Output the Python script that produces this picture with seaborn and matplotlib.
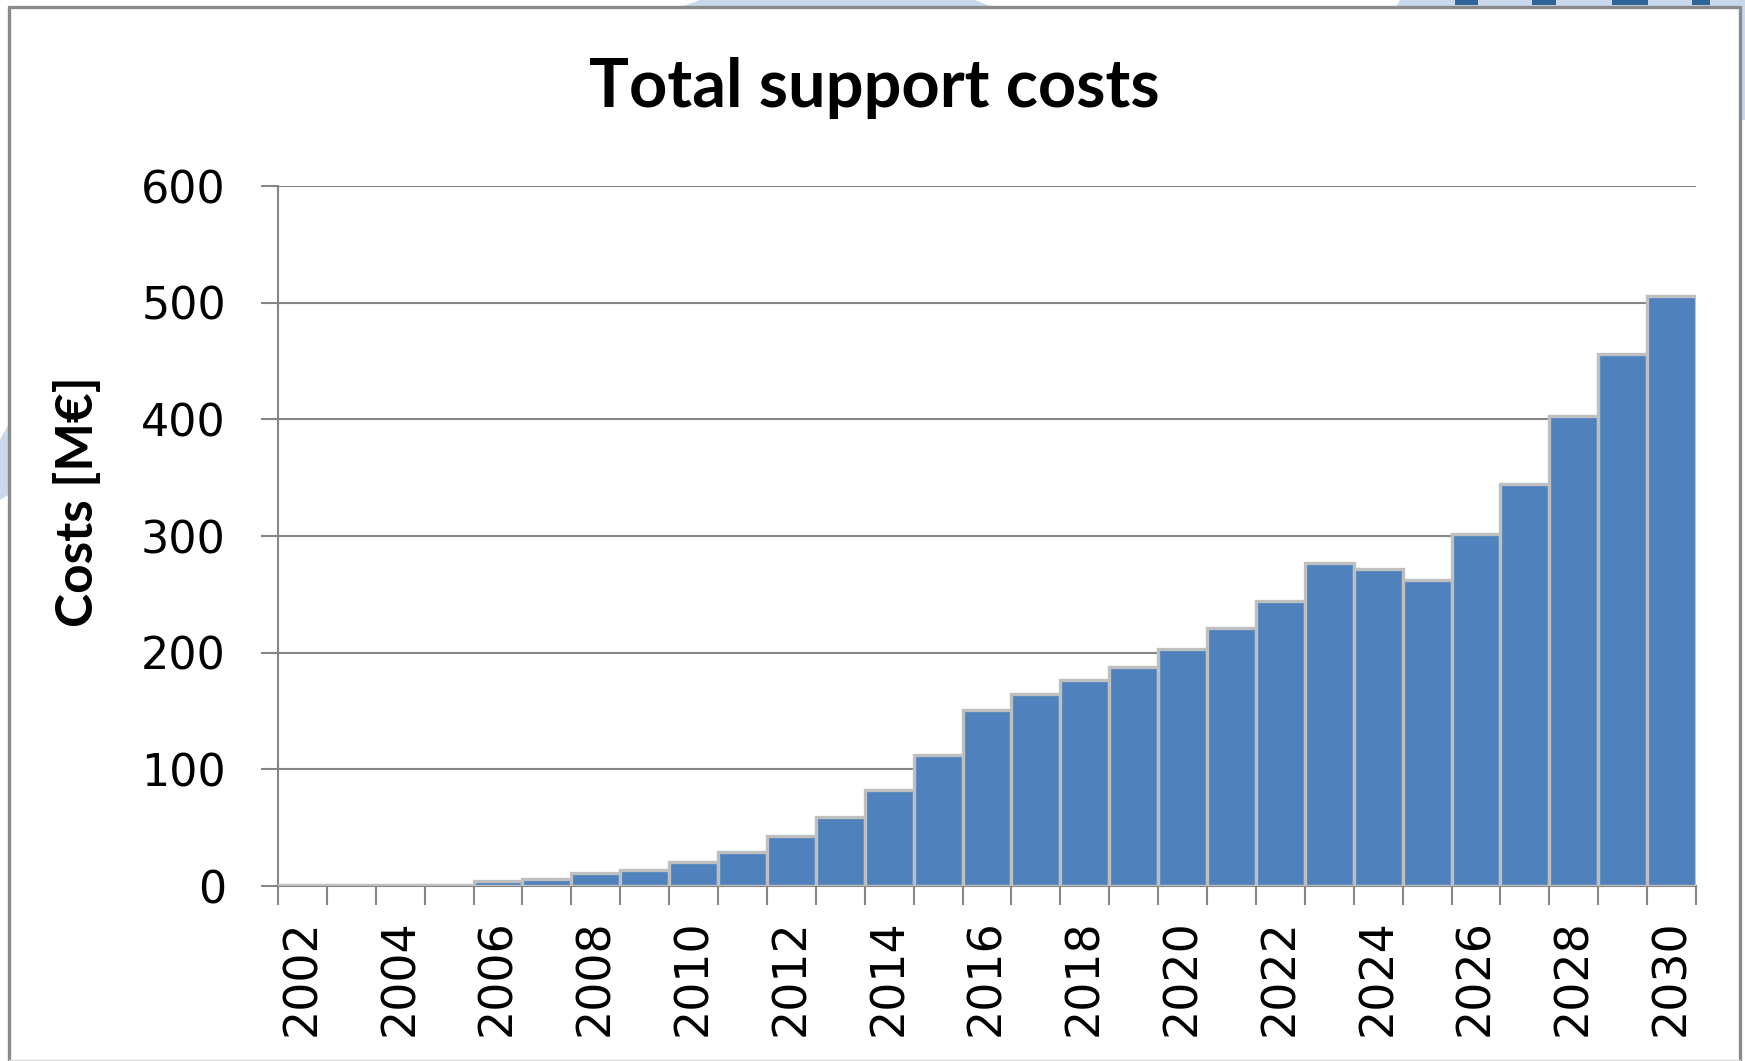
import numpy as np
import matplotlib
matplotlib.use("Agg")
import matplotlib.pyplot as plt
from matplotlib.patches import Polygon
from matplotlib.lines import Line2D
import seaborn as sns

# Annual total support costs, million euro
years = [str(y) for y in range(2002, 2031)]
costs = [1, 1, 1, 1, 4, 6, 11, 14, 21, 29, 43, 59, 82, 112, 151, 165,
         177, 188, 203, 221, 244, 277, 272, 262, 302, 345, 403, 456, 506]
y_ticks = [0, 100, 200, 300, 400, 500, 600]
labelled_years = years[::2]

W, H = 1745, 1061
BAR = "#4F81BD"
BAR_EDGE = "#BFBFBF"
AXIS_GREY = "#868686"

sns.set_theme(style="white")
plt.rcParams["font.family"] = ["DejaVu Sans"]
plt.rcParams["text.color"] = "black"
plt.rcParams["axes.labelcolor"] = "black"
plt.rcParams["xtick.labelcolor"] = "black"
plt.rcParams["ytick.labelcolor"] = "black"

fig = plt.figure(figsize=(W / 100, H / 100), dpi=100)
fig.patch.set_facecolor("white")


def px(x, y):
    """Pixel position measured from the top-left corner -> figure fraction."""
    return (x / W, 1 - y / H)


# light blue backdrop peeking out around the chart frame
for pts in [
    [(683, 6), (700, 0), (975, 0), (990, 6)],
    [(1395, 8), (1400, 0), (1745, 0), (1745, 120), (1741, 120), (1741, 8)],
    [(0, 440), (8, 425), (8, 495), (0, 500)],
]:
    fig.patches.append(Polygon([px(*p) for p in pts], closed=True,
                               transform=fig.transFigure, facecolor="#C9D9EB",
                               edgecolor="none", zorder=-5))
for x0, x1 in [(1455, 1478), (1532, 1556), (1612, 1648), (1692, 1710)]:
    fig.patches.append(Polygon([px(x0, 0), px(x1, 0), px(x1, 5), px(x0, 5)],
                               closed=True, transform=fig.transFigure,
                               facecolor="#2F6699", edgecolor="none", zorder=-4))

# chart frame
for (xa, ya), (xb, yb), col, lw in [
    ((8.5, 6.5), (1740, 6.5), "#8A8A8A", 2.4),
    ((8.5, 6.5), (8.5, 1061), "#8A8A8A", 2.4),
    ((1740, 6.5), (1740, 1061), "#8A8A8A", 2.4),
    ((8.5, 1059.5), (1740, 1059.5), "#D9D9D9", 1.0),
]:
    fig.add_artist(Line2D([xa / W, xb / W], [1 - ya / H, 1 - yb / H],
                          transform=fig.transFigure, color=col, lw=lw))

ax = fig.add_axes([278 / W, 1 - 886 / H, (1696 - 278) / W, (886 - 186) / H])
ax.set_facecolor("none")

sns.barplot(x=years, y=costs, color=BAR, saturation=1, width=1.0,
            edgecolor=BAR_EDGE, linewidth=2.4, ax=ax, zorder=3)

ax.set_xlim(-0.5, len(years) - 0.5)
ax.set_ylim(0, 600)
ax.set_yticks(y_ticks)
ax.set_yticklabels([str(v) for v in y_ticks], fontsize=32, color="black")

ax.set_xticks([years.index(y) for y in labelled_years])
ax.set_xticklabels(labelled_years, rotation=90, fontsize=33, color="black")
ax.set_xticks(np.arange(-0.5, len(years), 1.0), minor=True)

ax.yaxis.grid(True, color=AXIS_GREY, lw=1.5, zorder=0)
ax.xaxis.grid(False)
ax.set_axisbelow(True)

for side in ["top", "right"]:
    ax.spines[side].set_visible(False)
for side in ["left", "bottom"]:
    ax.spines[side].set_color(AXIS_GREY)
    ax.spines[side].set_linewidth(1.5)

ax.tick_params(axis="y", which="major", left=True, length=12.5, width=1.5,
               color=AXIS_GREY, pad=25)
ax.tick_params(axis="x", which="major", bottom=True, length=0, pad=24)
ax.tick_params(axis="x", which="minor", bottom=True, length=13.5, width=1.5,
               color=AXIS_GREY)
ax.set_xlabel("")
ax.set_ylabel("")

fig.text(*px(874, 88), "Total support costs", ha="center", va="center",
         fontsize=48, fontweight="bold", color="black",
         family=["Lato", "DejaVu Sans"])
fig.text(*px(78, 502), "Costs [M€]", ha="center", va="center", rotation=90,
         fontsize=37, fontweight="bold", color="black",
         family=["Lato", "DejaVu Sans"])

fig.savefig("out.png", dpi=100)
